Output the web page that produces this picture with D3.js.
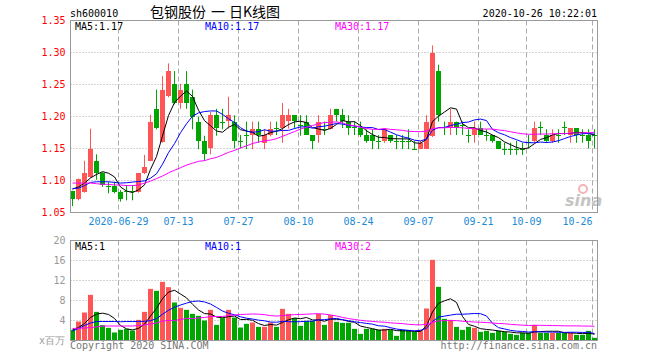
<!DOCTYPE html>
<html>
<head>
<meta charset="utf-8">
<script src="https://cdn.jsdelivr.net/npm/d3@7/dist/d3.min.js"></script>
<style>
  body { margin: 0; background: #fff; }
  svg text { font-family: "DejaVu Sans Mono", monospace; font-size: 10px; }
</style>
</head>
<body>
<div id="chart"></div>
<script>
// trading days shown (2020-06-15 .. 2020-10-26)
const dates = [
  '06-15','06-16','06-17','06-18','06-19','06-22','06-23','06-24','06-29','06-30',
  '07-01','07-02','07-03','07-06','07-07','07-08','07-09','07-10','07-13','07-14',
  '07-15','07-16','07-17','07-20','07-21','07-22','07-23','07-24','07-27','07-28',
  '07-29','07-30','07-31','08-03','08-04','08-05','08-06','08-07','08-10','08-11',
  '08-12','08-13','08-14','08-17','08-18','08-19','08-20','08-21','08-24','08-25',
  '08-26','08-27','08-28','08-31','09-01','09-02','09-03','09-04','09-07','09-08',
  '09-09','09-10','09-11','09-14','09-15','09-16','09-17','09-18','09-21','09-22',
  '09-23','09-24','09-25','09-28','09-29','09-30','10-09','10-12','10-13','10-14',
  '10-15','10-16','10-19','10-20','10-21','10-22','10-23','10-26'
];

const openPx = [
  1.083,1.071,1.082,1.106,1.131,1.111,1.091,1.091,1.082,1.083,
  1.083,1.082,1.111,1.131,1.212,1.160,1.232,1.251,1.222,1.251,
  1.231,1.192,1.162,1.151,1.202,1.191,1.192,1.192,1.162,1.171,
  1.171,1.181,1.159,1.171,1.182,1.181,1.192,1.202,1.187,1.192,
  1.171,1.171,1.181,1.180,1.212,1.202,1.192,1.183,1.182,1.171,
  1.171,1.162,1.162,1.171,1.162,1.162,1.162,1.150,1.150,1.150,
  1.171,1.271,1.183,1.182,1.192,1.187,1.171,1.171,1.182,1.171,
  1.171,1.162,1.150,1.150,1.150,1.150,1.160,1.162,1.183,1.171,
  1.162,1.171,1.183,1.171,1.182,1.171,1.171,1.171
];
const highPx = [
  1.084,1.103,1.131,1.181,1.141,1.113,1.098,1.098,1.085,1.093,
  1.093,1.112,1.140,1.203,1.242,1.263,1.283,1.271,1.251,1.271,
  1.242,1.200,1.170,1.207,1.212,1.212,1.231,1.202,1.171,1.192,
  1.192,1.192,1.180,1.192,1.192,1.221,1.212,1.202,1.202,1.202,
  1.171,1.202,1.192,1.212,1.212,1.212,1.202,1.192,1.192,1.180,
  1.180,1.171,1.182,1.171,1.171,1.171,1.180,1.162,1.162,1.202,
  1.311,1.281,1.192,1.212,1.192,1.192,1.180,1.192,1.192,1.180,
  1.171,1.162,1.159,1.159,1.162,1.159,1.171,1.192,1.192,1.180,
  1.180,1.180,1.192,1.182,1.182,1.180,1.180,1.180
];
const lowPx = [
  1.060,1.069,1.081,1.104,1.101,1.090,1.080,1.080,1.067,1.069,
  1.069,1.081,1.110,1.130,1.180,1.159,1.230,1.219,1.212,1.212,
  1.180,1.149,1.131,1.141,1.170,1.180,1.181,1.150,1.150,1.149,
  1.149,1.159,1.149,1.169,1.171,1.159,1.181,1.181,1.170,1.171,
  1.149,1.159,1.171,1.180,1.192,1.182,1.171,1.171,1.168,1.159,
  1.149,1.149,1.159,1.159,1.149,1.149,1.149,1.149,1.149,1.149,
  1.168,1.192,1.171,1.171,1.171,1.171,1.159,1.159,1.171,1.162,
  1.159,1.149,1.140,1.140,1.140,1.140,1.150,1.159,1.171,1.159,
  1.159,1.159,1.171,1.159,1.159,1.159,1.150,1.150
];
const closePx = [
  1.071,1.102,1.111,1.150,1.113,1.093,1.090,1.082,1.071,1.082,
  1.081,1.111,1.121,1.192,1.182,1.242,1.271,1.222,1.242,1.222,
  1.200,1.163,1.141,1.202,1.181,1.190,1.202,1.163,1.161,1.170,
  1.181,1.171,1.171,1.181,1.181,1.202,1.202,1.192,1.186,1.171,
  1.162,1.192,1.180,1.202,1.202,1.192,1.182,1.182,1.171,1.162,
  1.162,1.161,1.180,1.162,1.161,1.161,1.161,1.149,1.159,1.192,
  1.300,1.202,1.182,1.192,1.182,1.186,1.170,1.182,1.171,1.170,
  1.162,1.150,1.149,1.149,1.149,1.149,1.159,1.182,1.182,1.162,
  1.171,1.170,1.182,1.182,1.171,1.170,1.162,1.170
];
// volume, millions of shares
const volume = [
  2.13,3.8,5.6,9.13,5.73,3.07,2.53,1.6,2.13,2.33,
  2.0,4.13,5.73,10.33,9.93,11.73,10.67,7.6,6.53,6.13,
  5.33,4.93,4.0,6.13,3.13,4.47,6.13,4.6,2.6,3.33,
  3.6,2.73,2.73,3.6,2.73,6.33,5.33,4.47,2.93,3.93,
  3.93,5.33,3.13,5.1,3.73,3.53,3.53,2.33,1.33,2.33,
  2.33,2.13,2.33,2.13,0.93,2.13,2.13,1.73,2.13,6.4,
  16.13,10.73,4.33,4.13,2.73,2.13,2.73,2.53,1.73,1.93,
  1.53,1.93,1.73,1.33,1.13,1.53,1.53,3.13,1.53,1.53,
  1.53,1.53,1.53,1.53,1.13,1.13,1.93,0.53
];

// moving-average values before the window is full
const ma5Head = [1.0865, 1.090, 1.096, 1.104];
const ma10Head = [1.0875, 1.088, 1.092, 1.097, 1.098, 1.098, 1.098, 1.097, 1.096];
const ma30Head = [
  1.096,1.096,1.096,1.096,1.095,1.094,1.094,1.093,1.093,1.092,
  1.092,1.093,1.096,1.099,1.103,1.107,1.112,1.116,1.120,1.124,
  1.127,1.130,1.131,1.134,1.136,1.140,1.144,1.147,1.151
];
const vma5Head = [2.1, 2.6, 3.4, 4.6];
const vma10Head = [1.9, 2.4, 3.0, 3.5, 3.8, 3.8, 3.8, 3.8, 3.75];
const vma30Head = [
  2.4,2.45,2.5,2.6,2.7,2.9,2.9,2.9,2.9,2.9,
  2.9,3.0,3.1,3.3,3.5,3.9,4.0,4.0,4.2,4.4,
  4.4,4.5,4.6,4.8,4.8,4.8,5.0,5.1,5.2
];

const priceTicks = [1.05, 1.10, 1.15, 1.20, 1.25, 1.30, 1.35];
const volTicks = [4, 8, 12, 16, 20];
const dateMarks = ['06-29','07-13','07-27','08-10','08-24','09-07','09-21','10-09','10-26'];
const dateLabels = ['2020-06-29','07-13','07-27','08-10','08-24','09-07','09-21','10-09','10-26'];
const priceLegend = [['MA5', '1.17'], ['MA10', '1.17'], ['MA30', '1.17']];
const volLegend = [['MA5', '1'], ['MA10', '1'], ['MA30', '2']];
const titleParts = [['包钢股份', 150], ['一', 211], ['日K线图', 229]];

const W = 660, H = 360;
const left = 70.5, right = 597.5;
const UP = '#ff5555', DOWN = '#00a600';
const MA_COLORS = ['#000000', '#0000ff', '#ff00ff'];
const GRID = '#aaaaaa', BORDER = '#999999';

const svg = d3.select('#chart').append('svg')
  .attr('width', W)
  .attr('height', H);

const x = d3.scaleBand().domain(dates).range([69.5, 597.5]);
const cx = d => x(d) + x.bandwidth() / 2;
const bodyW = 5;

const yP = d3.scaleLinear().domain([1.05, 1.35]).range([212.5, 20.5]);
const yV = d3.scaleLinear().domain([0, 20]).range([340.5, 240.5]);

// moving average: read-off head, then plain window average
function movingAvg(values, n, head) {
  return values.map((v, i) => {
    if (i < n - 1) return head[i];
    return d3.mean(values.slice(i - n + 1, i + 1));
  });
}

const priceMAs = [
  movingAvg(closePx, 5, ma5Head),
  movingAvg(closePx, 10, ma10Head),
  movingAvg(closePx, 30, ma30Head)
];
const volMAs = [
  movingAvg(volume, 5, vma5Head),
  movingAvg(volume, 10, vma10Head),
  movingAvg(volume, 30, vma30Head)
];

// Header
svg.append('text').attr('x', 70).attr('y', 16.5).attr('fill', '#000').text('sh600010');
titleParts.forEach(([t, px]) => {
  svg.append('text').attr('x', px).attr('y', 16.5)
    .style('font-family', '"Noto Sans CJK SC", sans-serif').style('font-size', '14px')
    .attr('fill', '#000').text(t);
});
svg.append('text').attr('x', 597).attr('y', 16.5).attr('text-anchor', 'end')
  .attr('fill', '#000').text('2020-10-26 10:22:01');

function drawPanel(y, innerTicks, top, bottom) {
  const g = svg.append('g');
  // dotted horizontal grid
  g.selectAll('line.h').data(innerTicks).enter().append('line')
    .attr('x1', left).attr('x2', right)
    .attr('y1', d => y(d)).attr('y2', d => y(d))
    .attr('stroke', GRID).attr('stroke-dasharray', '1,2');
  // dashed date lines
  g.selectAll('line.v').data(dateMarks).enter().append('line')
    .attr('x1', d => cx(d) - 2).attr('x2', d => cx(d) - 2)
    .attr('y1', top).attr('y2', bottom)
    .attr('stroke', GRID).attr('stroke-dasharray', '5,3');
  return g;
}

// ---------- price panel ----------
drawPanel(yP, priceTicks.slice(1, -1), 20.5, 212.5);

const pAxis = svg.append('g').attr('transform', `translate(${left},0)`)
  .call(d3.axisLeft(yP).tickValues(priceTicks).tickSize(0).tickPadding(5)
    .tickFormat(d3.format('.2f')));
pAxis.select('.domain').remove();
pAxis.selectAll('text').attr('fill', '#ff0000')
  .style('font-family', '"DejaVu Sans Mono", monospace').style('font-size', '10px');

const candles = svg.append('g');
const idx = d3.range(dates.length);
candles.selectAll('line').data(idx).enter().append('line')
  .attr('x1', i => cx(dates[i])).attr('x2', i => cx(dates[i]))
  .attr('y1', i => yP(highPx[i])).attr('y2', i => yP(lowPx[i]))
  .attr('stroke', i => closePx[i] >= openPx[i] ? UP : DOWN);
candles.selectAll('rect').data(idx).enter().append('rect')
  .attr('x', i => cx(dates[i]) - bodyW / 2)
  .attr('width', bodyW)
  .attr('y', i => Math.round(yP(Math.max(openPx[i], closePx[i]))))
  .attr('height', i => Math.max(1, Math.round(Math.abs(yP(openPx[i]) - yP(closePx[i])))))
  .attr('fill', i => closePx[i] >= openPx[i] ? UP : DOWN);

priceMAs.forEach((ma, k) => {
  svg.append('path').datum(idx)
    .attr('fill', 'none').attr('stroke', MA_COLORS[k]).attr('stroke-width', 1)
    .attr('d', d3.line().x(i => cx(dates[i])).y(i => yP(ma[i])));
});

// sina watermark
svg.append('circle').attr('cx', 583).attr('cy', 189).attr('r', 4)
  .attr('fill', 'none').attr('stroke', '#f6b4b4').attr('stroke-width', 2);
svg.append('text').attr('x', 565).attr('y', 206)
  .style('font-family', '"DejaVu Sans", sans-serif').style('font-size', '16px')
  .style('font-style', 'italic').style('font-weight', 'bold')
  .attr('fill', '#c4c4c4').text('sina');

svg.append('rect').attr('x', left).attr('y', 20.5).attr('width', right - left).attr('height', 192)
  .attr('fill', 'none').attr('stroke', BORDER);

priceLegend.forEach(([name, v], k) => {
  svg.append('text').attr('x', 75 + k * 130).attr('y', 29.5)
    .attr('fill', MA_COLORS[k]).text(`${name}:${v}`);
});

// date labels under price panel
svg.selectAll('text.date').data(dateMarks).enter().append('text')
  .attr('class', 'date')
  .attr('y', 225)
  .attr('fill', '#1b8ad6')
  .attr('x', d => cx(d) - 2)
  .attr('text-anchor', (d, i) => i === dateMarks.length - 1 ? 'end' : 'middle')
  .text((d, i) => dateLabels[i]);

// ---------- volume panel ----------
drawPanel(yV, volTicks.slice(0, -1), 240.5, 340.5);

const vAxis = svg.append('g').attr('transform', `translate(${left},0)`)
  .call(d3.axisLeft(yV).tickValues(volTicks).tickSize(0).tickPadding(5));
vAxis.select('.domain').remove();
vAxis.selectAll('text').attr('fill', '#999')
  .style('font-family', '"DejaVu Sans Mono", monospace').style('font-size', '10px');
svg.append('text').attr('x', 65).attr('y', 344).attr('text-anchor', 'end')
  .attr('fill', '#999').text('x百万');

svg.append('g').selectAll('rect').data(idx).enter().append('rect')
  .attr('x', i => cx(dates[i]) - bodyW / 2)
  .attr('width', bodyW)
  .attr('y', i => yV(volume[i]))
  .attr('height', i => yV(0) - yV(volume[i]))
  .attr('fill', i => closePx[i] >= openPx[i] ? UP : DOWN);

volMAs.forEach((ma, k) => {
  svg.append('path').datum(idx)
    .attr('fill', 'none').attr('stroke', MA_COLORS[k]).attr('stroke-width', 1)
    .attr('d', d3.line().x(i => cx(dates[i])).y(i => yV(ma[i])));
});

svg.append('rect').attr('x', left).attr('y', 240.5).attr('width', right - left).attr('height', 100)
  .attr('fill', 'none').attr('stroke', BORDER);

volLegend.forEach(([name, v], k) => {
  svg.append('text').attr('x', 75 + k * 130).attr('y', 250)
    .attr('fill', MA_COLORS[k]).text(`${name}:${v}`);
});

// footer
svg.append('text').attr('x', 70).attr('y', 349).attr('fill', '#777').text('Copyright 2020 SINA.COM');
svg.append('text').attr('x', 597).attr('y', 349).attr('text-anchor', 'end')
  .attr('fill', '#777').text('http://finance.sina.com.cn');
</script>
</body>
</html>
